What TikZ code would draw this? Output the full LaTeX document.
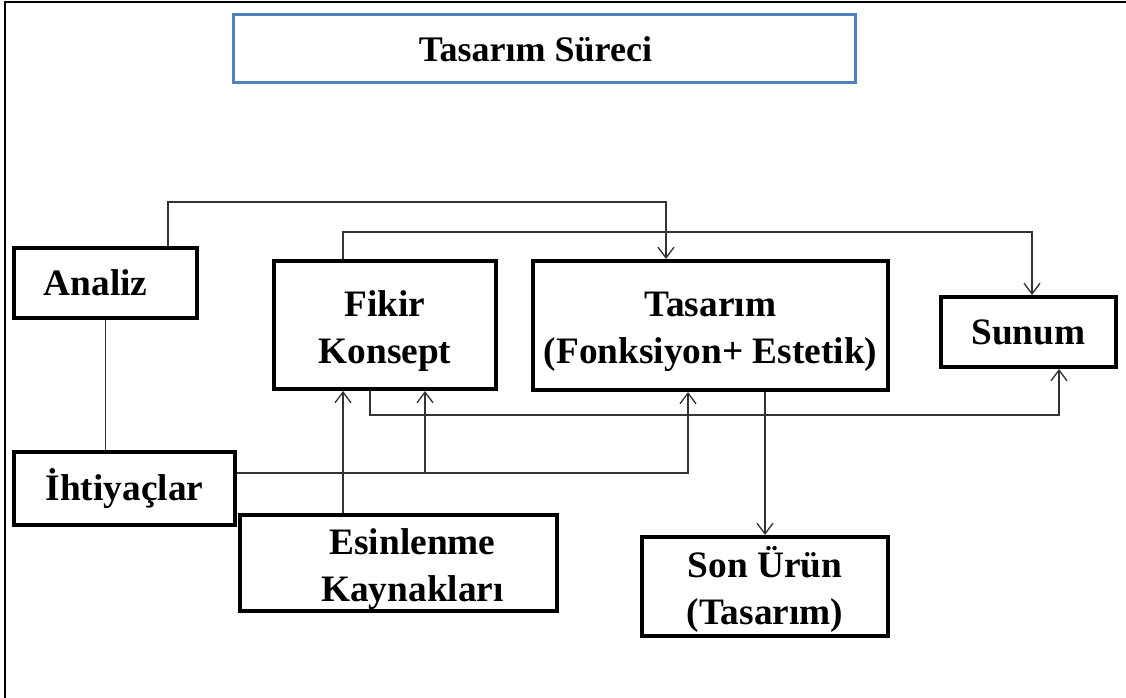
\documentclass[tikz,border=0pt]{standalone}
\usepackage{fontspec}
\usepackage{graphicx}
\setmainfont{Liberation Serif}
\usetikzlibrary{arrows.meta}
\definecolor{baslikmavi}{RGB}{79,129,189}
% iki satirlik kutu metni, biraz asagida
\newcommand{\ikisatir}[2][0pt]{\raisebox{-4pt}[\height][\depth]{\begin{tabular}{@{\hspace{#1}}c@{}}#2\end{tabular}}}

\begin{document}
\begin{tikzpicture}[x=0.75pt,y=-0.75pt,>={Straight Barb[length=8pt,width=12pt]},
  kutu/.style={draw,line width=3pt,inner sep=0pt,align=center,font=\fontsize{28}{35}\selectfont\bfseries},
  hat/.style={line width=1pt,draw=black!80}]
\useasboundingbox (0,0) rectangle (1126,698);
\draw[line width=1.5pt] (5,698) -- (5,2) -- (1126,2);
% kutular
\node[kutu,draw=baslikmavi,line width=2.25pt,minimum width=467pt,minimum height=51pt,font=\fontsize{27}{34}\selectfont\bfseries] (baslik) at (544.5,49) {Tasarım Süreci\hspace{13.5pt}};
\node[kutu,minimum width=137pt,minimum height=52.5pt] (analiz) at (105.5,283) {Analiz\hspace{15pt}};
\node[kutu,minimum width=166.5pt,minimum height=96pt] (fikir) at (385,325) {\ikisatir{Fikir\\Konsept}};
\node[kutu,minimum width=266pt,minimum height=96.75pt] (tasarim) at (710.5,325.5) {\ikisatir{Tasarım\\(Fonksiyon+ Estetik)}};
\node[kutu,minimum width=131pt,minimum height=52.5pt] (sunum) at (1028.5,332) {Sunum};
\node[kutu,minimum width=165.75pt,minimum height=54.75pt] (ihtiyac) at (124.5,488.5) {İhtiyaçlar};
\node[kutu,minimum width=237.75pt,minimum height=72pt] (esin) at (398.5,563) {\ikisatir[21pt]{Esinlenme\\Kaynakları}};
\node[kutu,minimum width=184.5pt,minimum height=74.25pt] (sonurun) at (765,586.5) {\ikisatir{Son Ürün\\(Tasarım)}};
% kirilma noktalari
\coordinate (k1) at (168,202); \coordinate (k2) at (666,202);
\coordinate (k3) at (343,232); \coordinate (k4) at (1032,232);
\coordinate (k5) at (370,415); \coordinate (k6) at (1059,415);
\coordinate (k7) at (688,473); \coordinate (k8) at (425,473);
% baglantilar
\draw[hat,->] (analiz.north -| k1) |- (k2) -- (tasarim.north -| k2);
\draw[hat,->] (fikir.north -| k3) |- (k4) -- (sunum.north -| k4);
\draw[hat,->] (fikir.south -| k5) |- (k6) -- (sunum.south -| k6);
\draw[hat] (analiz.south) -- (ihtiyac.north -| analiz.south);
\draw[hat,->] (ihtiyac.east |- k7) -| (tasarim.south -| k7);
\draw[hat,->] (k8) -- (fikir.south -| k8);
\draw[hat,->] (esin.north -| k3) -- (fikir.south -| k3);
\draw[hat,->] (tasarim.south -| sonurun.north) -- (sonurun.north);
\end{tikzpicture}
\end{document}
